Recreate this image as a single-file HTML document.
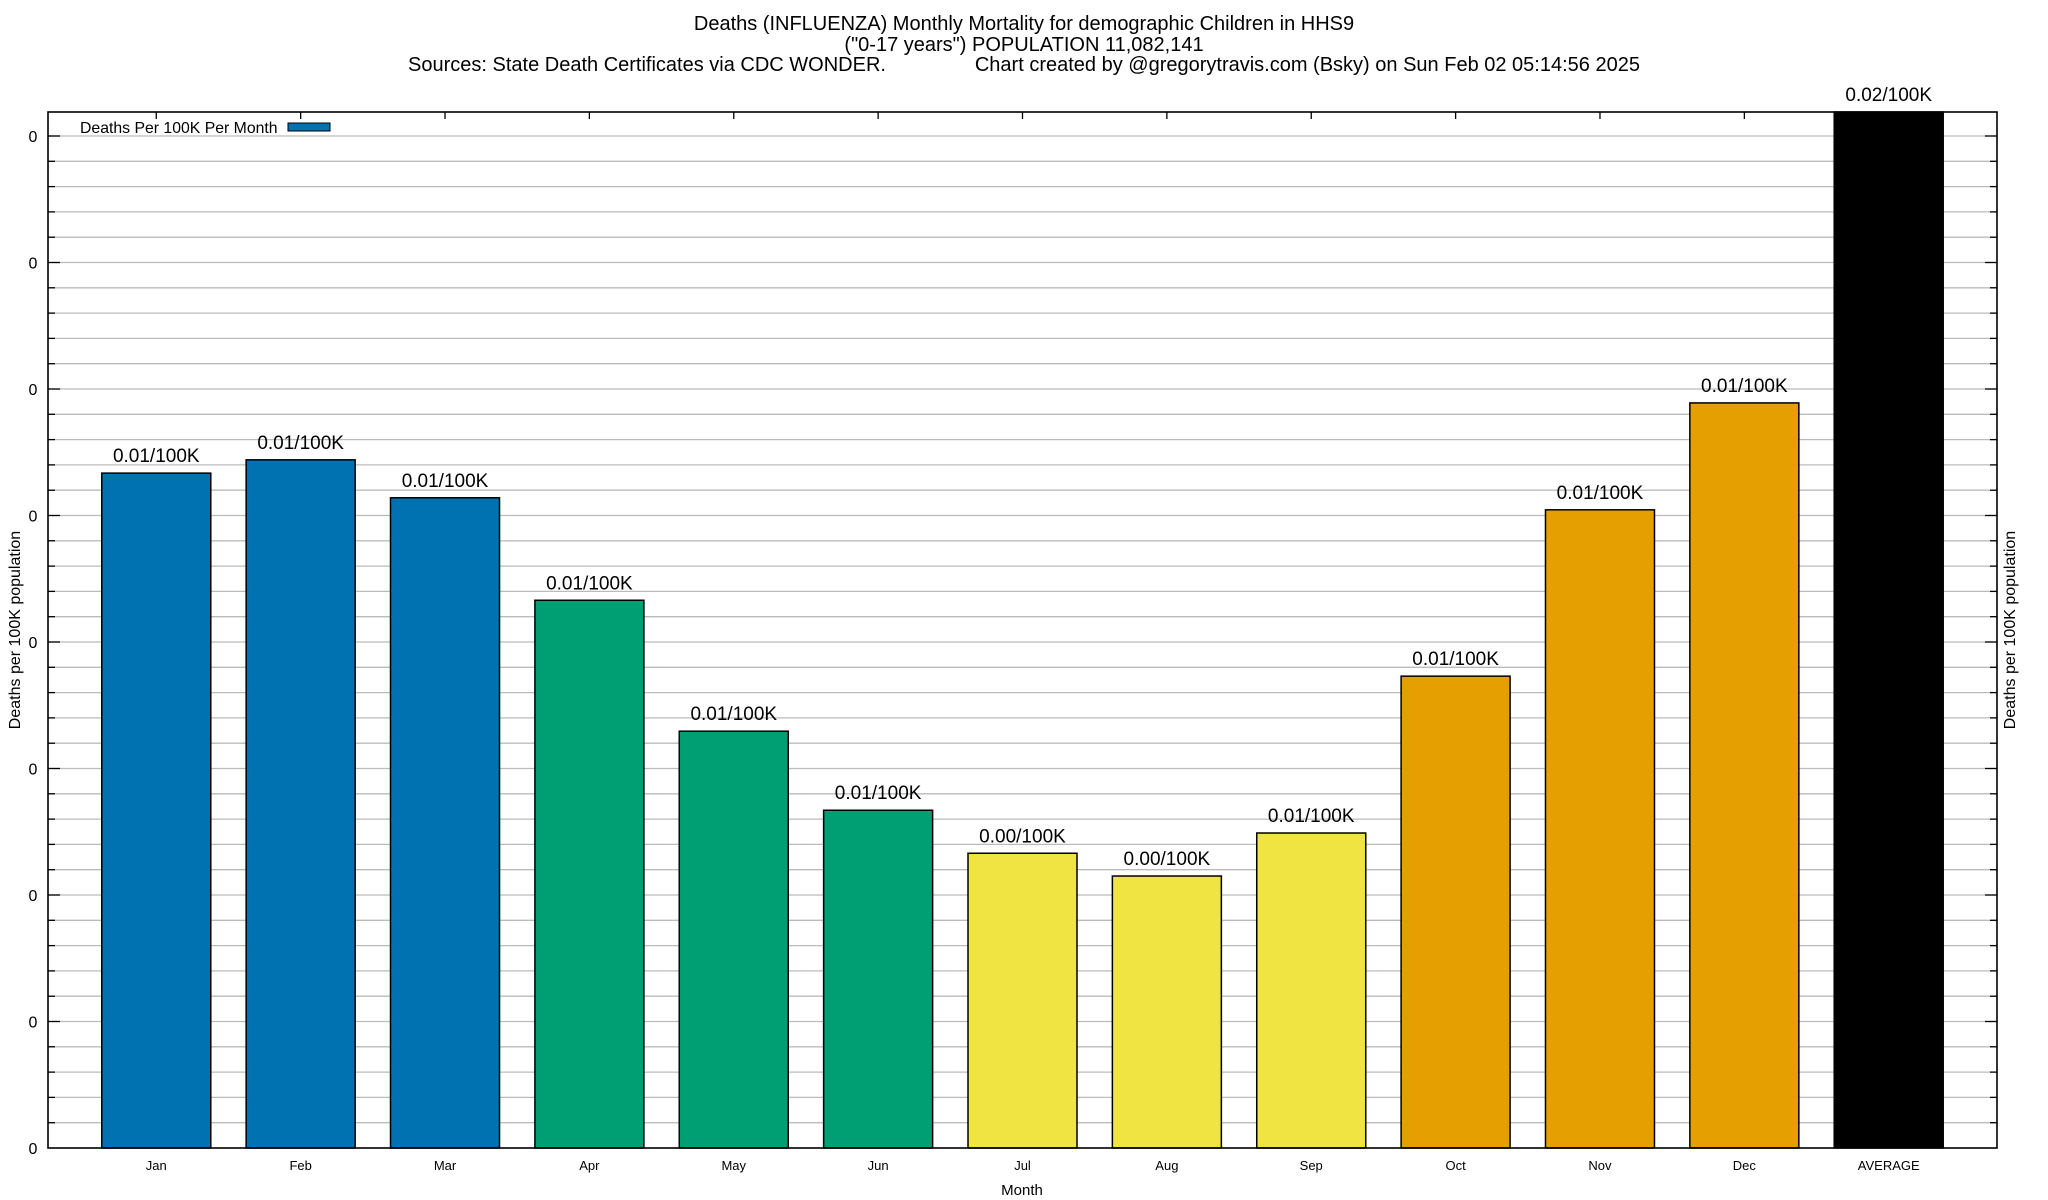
<!DOCTYPE html>
<html><head><meta charset="utf-8">
<style>
html,body{margin:0;padding:0;background:#fff;}
svg{display:block;font-family:"Liberation Sans",Arial,sans-serif;}
</style></head>
<body>
<svg id="chart" width="2048" height="1200" viewBox="0 0 2048 1200" xmlns="http://www.w3.org/2000/svg">
<g font-size="20" text-anchor="middle" fill="#000">
<text x="1024" y="30">Deaths (INFLUENZA) Monthly Mortality for demographic Children in HHS9</text>
<text x="1024" y="51">("0-17 years") POPULATION 11,082,141</text>
<text x="1024" y="71" xml:space="preserve">Sources: State Death Certificates via CDC WONDER.                Chart created by @gregorytravis.com (Bsky) on Sun Feb 02 05:14:56 2025</text>
</g>
<g id="grid"></g>
<g id="bars"></g>
<g id="axes"></g>
<g>
<text x="80" y="133" font-size="15.8">Deaths Per 100K Per Month</text>
<rect x="288" y="123" width="42" height="8" fill="#0072b2" stroke="#000" stroke-width="1"/>
</g>
<text x="1022" y="1195" font-size="15" text-anchor="middle">Month</text>
<text transform="translate(20,630) rotate(-90)" font-size="16" text-anchor="middle">Deaths per 100K population</text>
<text transform="translate(2015,630) rotate(-90)" font-size="16" text-anchor="middle">Deaths per 100K population</text>
</svg>
<script>
const categories = ["Jan","Feb","Mar","Apr","May","Jun","Jul","Aug","Sep","Oct","Nov","Dec","AVERAGE"];
const values = [0.01067,0.01088,0.01028,0.00866,0.00659,0.00534,0.00466,0.0043,0.00498,0.00746,0.01009,0.01178,0.017];
const valueLabels = ["0.01/100K","0.01/100K","0.01/100K","0.01/100K","0.01/100K","0.01/100K","0.00/100K","0.00/100K","0.01/100K","0.01/100K","0.01/100K","0.01/100K","0.02/100K"];
const barColors = ["#0072b2","#0072b2","#0072b2","#009e73","#009e73","#009e73","#f0e442","#f0e442","#f0e442","#e69f00","#e69f00","#e69f00","#000000"];
const yTicks = [0,0.002,0.004,0.006,0.008,0.01,0.012,0.014,0.016];
const yTickLabels = ["0","0","0","0","0","0","0","0","0"];

const NS="http://www.w3.org/2000/svg";
const L=48,R=1997,T=112,B=1148;
const yMaxTick=0.016, yTopPix=136;
function y(v){return B-(v/yMaxTick)*(B-yTopPix);}
const xMin=-0.75,xMax=12.75;
function x(i){return L+(i-xMin)/(xMax-xMin)*(R-L);}
const slot=(R-L)/(xMax-xMin), bw=slot*0.755;
function mk(tag,attrs,parent){const e=document.createElementNS(NS,tag);for(const k in attrs)e.setAttribute(k,attrs[k]);parent.appendChild(e);return e;}
const grid=document.getElementById('grid'),bars=document.getElementById('bars'),axes=document.getElementById('axes');
const step=yTicks[1]-yTicks[0];
for(let v=step/5;v<yMaxTick+step*0.6;v+=step/5){
  const yy=y(v); if(yy<T+1)continue;
  const g=mk('line',{x1:L,x2:R,y1:yy,y2:yy,stroke:'#bbb','stroke-width':1.3},grid);
  
  
  const isMajor=Math.abs(Math.round(v/step)*step-v)<1e-9;
  const len=isMajor?12:7;
  const t1=mk('line',{x1:L,x2:L+len,y1:yy,y2:yy,stroke:'#000','stroke-width':1.3},axes);
  
  
  const t2=mk('line',{x1:R-len,x2:R,y1:yy,y2:yy,stroke:'#000','stroke-width':1.3},axes);
  
  
}
yTicks.forEach((v,i)=>{
  const t=mk('text',{x:33,y:y(v)+6,'font-size':16,'text-anchor':'middle'},axes);
  t.textContent=yTickLabels[i];
  
  
});
categories.forEach((c,i)=>{
  const cx=x(i);
  const top=Math.max(y(values[i]),T);
  const r=mk('rect',{x:cx-bw/2,y:top,width:bw,height:B-top,fill:barColors[i],stroke:'#000','stroke-width':1.5},bars);
  
  
  const lbl=mk('text',{x:cx,y:top-11,'font-size':19,'text-anchor':'middle'},bars);
  lbl.textContent=valueLabels[i];
  
  
  const cl=mk('text',{x:cx,y:1170,'font-size':13,'text-anchor':'middle'},axes);
  cl.textContent=c;
  
  
  const tt=mk('line',{x1:cx,x2:cx,y1:T,y2:T+7,stroke:'#000','stroke-width':1.3},axes);
  
  
});
const frame=mk('rect',{x:L,y:T,width:R-L,height:B-T,fill:'none',stroke:'#000','stroke-width':1.6},axes);


</script>
</body></html>
